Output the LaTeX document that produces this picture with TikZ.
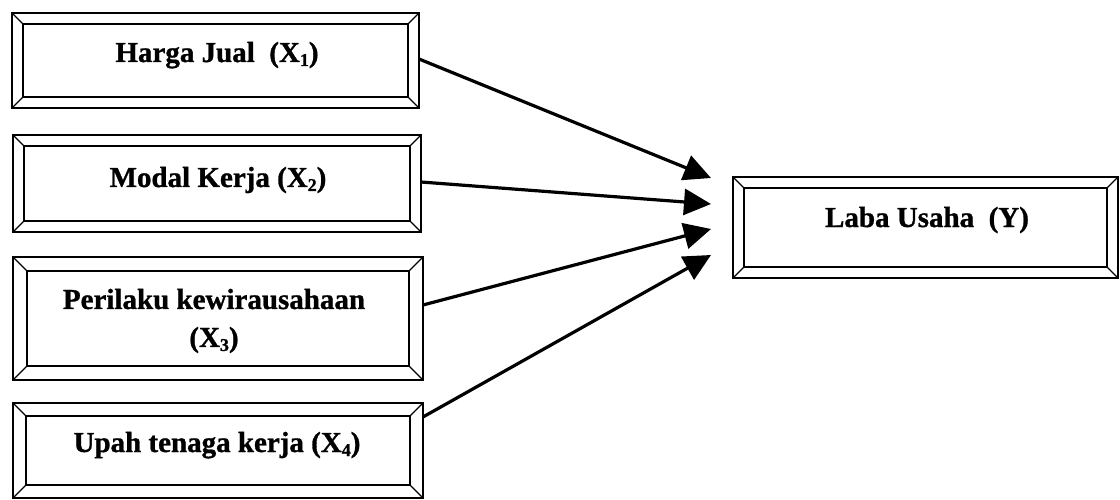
\documentclass[tikz,border=0pt]{standalone}
\usepackage{fontspec}
\setmainfont{Liberation Serif}[BoldFeatures={FakeBold=1}]
\usetikzlibrary{arrows.meta}

\tikzset{
  outerframe/.style={draw, line width=2.4pt, inner sep=0pt, outer sep=0pt},
  innerframe/.style={draw, line width=1.6pt},
  bevelline/.style={draw, line width=1.4pt},
  label/.style={font=\fontsize{29}{38}\selectfont\bfseries, inner sep=0pt, align=center},
  link/.style={line width=3.2pt, -{Triangle[length=27pt,width=26pt]}},
}

% small lowered index digit
\newcommand{\idx}[1]{\raisebox{-4pt}{\fontsize{18}{18}\selectfont #1}}

% framed box with bevelled corners: name, centre x, centre y, width, height, inset
\newcommand{\bevelbox}[6]{%
  \node[outerframe, minimum width=#4pt, minimum height=#5pt] (#1) at (#2,#3) {};
  \draw[innerframe] ([shift={(#6,#6)}]#1.north west) rectangle ([shift={(-#6,-#6)}]#1.south east);
  \draw[bevelline] (#1.north west) -- ++(#6,#6);
  \draw[bevelline] (#1.north east) -- ++(-#6,#6);
  \draw[bevelline] (#1.south west) -- ++(#6,-#6);
  \draw[bevelline] (#1.south east) -- ++(-#6,-#6);
}

\begin{document}
\begin{tikzpicture}[x=1pt, y=-1pt]
  \useasboundingbox (0,0) rectangle (1120,500);

  % independent variables
  \bevelbox{b1}{215.5}{60.5}{407}{95}{11}
  \bevelbox{b2}{217}{183.5}{408}{97}{11}
  \bevelbox{b3}{218}{318.5}{410}{123}{14}
  \bevelbox{b4}{218}{450.5}{410}{95}{13}
  % dependent variable
  \bevelbox{by}{925.5}{227.5}{385}{101}{11}

  \node[label, anchor=base] (t1) at (217,62) {Harga Jual\ \ (X\idx{1})};
  \node[label, anchor=base] (t2) at (218,187) {Modal Kerja (X\idx{2})};
  \node[label] (t3) at (214,321) {Perilaku kewirausahaan\\(X\idx{3})};
  \node[label, anchor=base] (t4) at (217,452) {Upah tenaga kerja (X\idx{4})};
  \node[label, anchor=base] (ty) at (927,227) {Laba Usaha\ \ (Y)};

  % arrow tips converging in front of the dependent variable
  \coordinate (a1) at (711,178);
  \coordinate (a2) at (711,204);
  \coordinate (a3) at (711,229);
  \coordinate (a4) at (711,255);

  \draw[link] ([yshift=1.5pt]b1.east) -- (a1);
  \draw[link] ([yshift=1.5pt]b2.east) -- (a2);
  \draw[link] ([yshift=13.5pt]b3.east) -- (a3);
  \draw[link] ([yshift=33.5pt]b4.east) -- (a4);
\end{tikzpicture}
\end{document}
